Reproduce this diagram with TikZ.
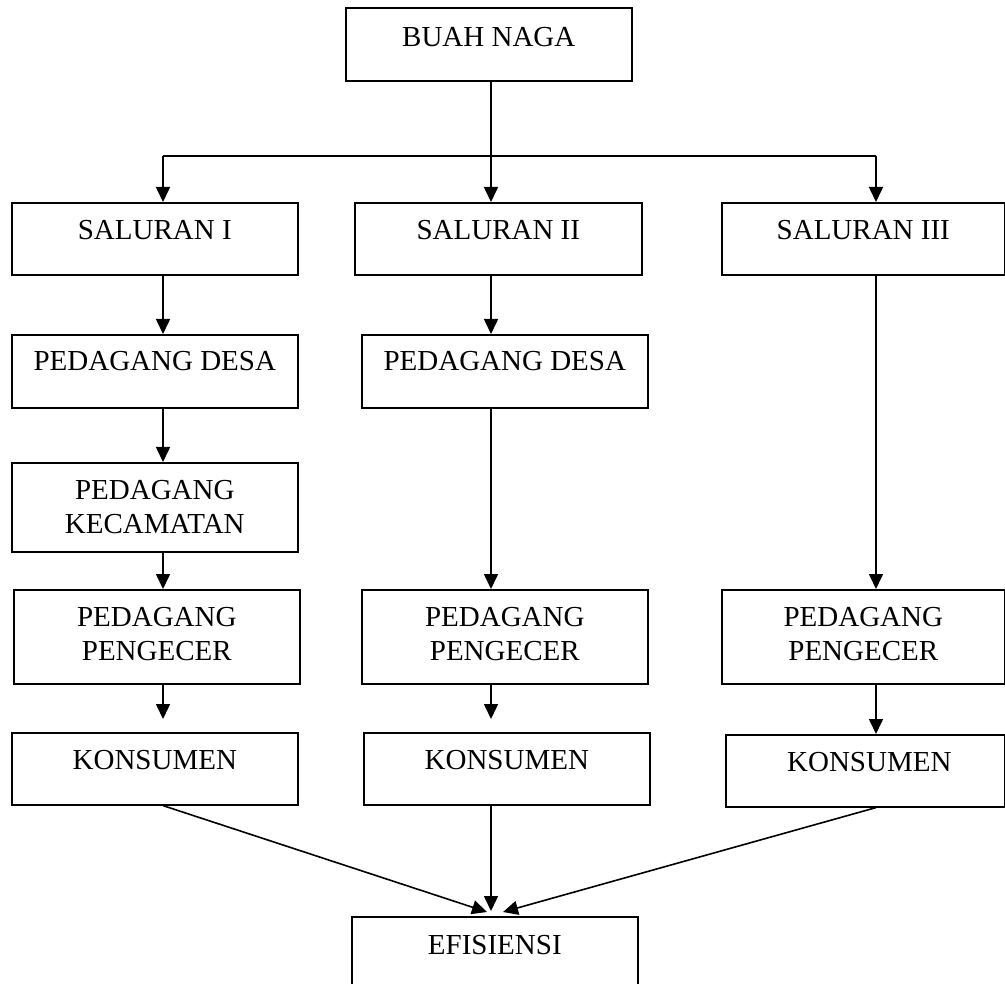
\documentclass[tikz,border=0pt]{standalone}
\usepackage{fontspec}
\setmainfont{Liberation Serif}
\usetikzlibrary{arrows.meta}
\begin{document}
\begin{tikzpicture}[x=1pt,y=-1pt,
  box/.style={draw,line width=1.6pt,inner sep=0pt,anchor=north west},
  lbl/.style={anchor=north,inner sep=0pt,align=center,font=\fontsize{29}{34}\selectfont},
  arr/.style={line width=1.6pt,-{Triangle[length=15pt,width=14pt]}},
  ln/.style={line width=1.6pt}]
\useasboundingbox (0,0) rectangle (1005,984);
\clip (0,0) rectangle (1005,984);
% boxes
\node[box,minimum width=286pt,minimum height=73pt] (buah) at (345,7) {};
\node[box,minimum width=286pt,minimum height=72pt] (sal1) at (11,202) {};
\node[box,minimum width=287pt,minimum height=72pt] (sal2) at (354,202) {};
\node[box,minimum width=283pt,minimum height=72pt] (sal3) at (721,202) {};
\node[box,minimum width=286pt,minimum height=73pt] (pd1) at (11,334) {};
\node[box,minimum width=286pt,minimum height=73pt] (pd2) at (361,334) {};
\node[box,minimum width=286pt,minimum height=89pt] (kec) at (11,462) {};
\node[box,minimum width=286pt,minimum height=94pt] (pg1) at (13,589) {};
\node[box,minimum width=286pt,minimum height=94pt] (pg2) at (361,589) {};
\node[box,minimum width=283pt,minimum height=94pt] (pg3) at (721,589) {};
\node[box,minimum width=286pt,minimum height=72pt] (ko1) at (11,732) {};
\node[box,minimum width=286pt,minimum height=72pt] (ko2) at (363,732) {};
\node[box,minimum width=279pt,minimum height=72pt] (ko3) at (725,734) {};
\node[box,minimum width=286pt,minimum height=100pt] (efi) at (351,916) {};
% labels
\node[lbl] (tbuah) at ([yshift=-20pt]buah.north) {BUAH NAGA};
\node[lbl] (tsal1) at ([yshift=-18pt]sal1.north) {SALURAN I};
\node[lbl] (tsal2) at ([yshift=-18pt]sal2.north) {SALURAN II};
\node[lbl] (tsal3) at ([yshift=-18pt]sal3.north) {SALURAN III};
\node[lbl] (tpd1) at ([yshift=-17pt]pd1.north) {PEDAGANG DESA};
\node[lbl] (tpd2) at ([yshift=-17pt]pd2.north) {PEDAGANG DESA};
\node[lbl] (tkec) at ([yshift=-18pt]kec.north) {PEDAGANG\\KECAMATAN};
\node[lbl] (tpg1) at ([yshift=-18pt]pg1.north) {PEDAGANG\\PENGECER};
\node[lbl] (tpg2) at ([yshift=-18pt]pg2.north) {PEDAGANG\\PENGECER};
\node[lbl] (tpg3) at ([yshift=-18pt]pg3.north) {PEDAGANG\\PENGECER};
\node[lbl] (tko1) at ([yshift=-18pt]ko1.north) {KONSUMEN};
\node[lbl] (tko2) at ([yshift=-18pt]ko2.north) {KONSUMEN};
\node[lbl] (tko3) at ([xshift=4pt,yshift=-18pt]ko3.north) {KONSUMEN};
\node[lbl] (tefi) at ([yshift=-19pt]efi.north) {EFISIENSI};
% column lines
\coordinate (c1) at (163,0);
\coordinate (c2) at (491,0);
\coordinate (c3) at (876,0);
\coordinate (j) at (491,156);
\coordinate (t1) at (487,912);
\coordinate (t2) at (491,911);
\coordinate (t3) at (503,912);
% top branch
\draw[ln] (buah.south -| c2) -- (j);
\draw[ln] (j -| c1) -- (j -| c3);
\draw[arr] (j -| c1) -- (sal1.north -| c1);
\draw[arr] (j) -- (sal2.north -| c2);
\draw[arr] (j -| c3) -- (sal3.north -| c3);
% column 1
\draw[arr] (sal1.south -| c1) -- (pd1.north -| c1);
\draw[arr] (pd1.south -| c1) -- (kec.north -| c1);
\draw[arr] (kec.south -| c1) -- (pg1.north -| c1);
\draw[arr,shorten >=13pt] (pg1.south -| c1) -- (ko1.north -| c1);
% column 2
\draw[arr] (sal2.south -| c2) -- (pd2.north -| c2);
\draw[arr] (pd2.south -| c2) -- (pg2.north -| c2);
\draw[arr,shorten >=13pt] (pg2.south -| c2) -- (ko2.north -| c2);
% column 3
\draw[arr] (sal3.south -| c3) -- (pg3.north -| c3);
\draw[arr] (pg3.south -| c3) -- (ko3.north -| c3);
% to efisiensi
\draw[arr] (ko1.south -| c1) -- (t1);
\draw[arr] (ko2.south -| c2) -- (t2);
\draw[arr] (ko3.south -| c3) -- (t3);
\end{tikzpicture}
\end{document}
